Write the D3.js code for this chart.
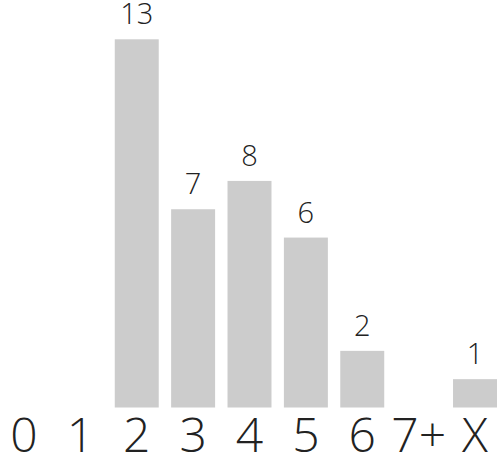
<!DOCTYPE html>
<html><head><meta charset="utf-8">
<script src="https://cdn.jsdelivr.net/npm/d3@7"></script>
<style>body{margin:0;background:#fff}svg{display:block}</style>
</head><body>
<svg id="c" width="497" height="454"></svg>
<script>
const categories = ["0","1","2","3","4","5","6","7+","X"];
const values = [0,0,13,7,8,6,2,0,1];

const svg = d3.select("#c");
const x = d3.scaleBand().domain(categories).range([2, 497]).paddingInner(0.22).paddingOuter(0);
const y = d3.scaleLinear().domain([0, 13]).range([407.5, 39.3]);
const data = categories.map((c, i) => ({c, v: values[i]}));
const font = "'Open Sans', 'Noto Sans', sans-serif";

svg.selectAll("rect").data(data.filter(d => d.v > 0)).join("rect")
  .attr("x", d => x(d.c)).attr("width", x.bandwidth())
  .attr("y", d => y(d.v)).attr("height", d => y(0) - y(d.v))
  .attr("fill", "#cccccc");

svg.selectAll("text.val").data(data.filter(d => d.v > 0)).join("text")
  .attr("class", "val")
  .attr("x", d => x(d.c) + x.bandwidth() / 2)
  .attr("y", d => y(d.v) - 15)
  .attr("text-anchor", "middle")
  .attr("font-family", font).attr("font-weight", 300)
  .attr("font-size", 29).attr("fill", "#222")
  .text(d => d.v);

const axis = d3.axisBottom(x).tickSize(0).tickPadding(0);
const g = svg.append("g").attr("transform", `translate(0,${y(0)})`).call(axis);
g.select(".domain").remove();
g.selectAll("text")
  .attr("y", 44).attr("dy", null)
  .attr("font-family", font).attr("font-weight", 300)
  .attr("font-size", 48).attr("fill", "#222");
</script>
</body></html>
